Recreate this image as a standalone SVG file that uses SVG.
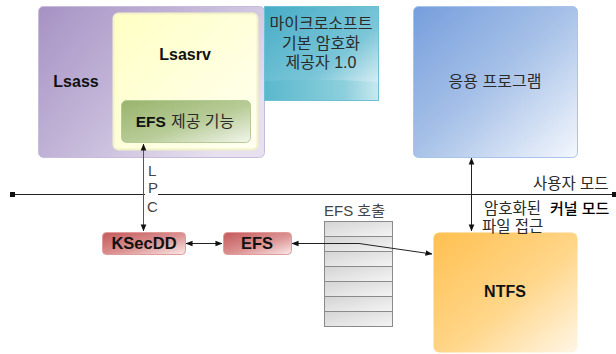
<svg xmlns="http://www.w3.org/2000/svg" width="616" height="354" viewBox="0 0 616 354">
<defs>
<linearGradient id="gPurple" x1="0" y1="0" x2="1" y2="0.6"><stop offset="0" stop-color="#a692c4"/><stop offset="0.5" stop-color="#c3b6d8"/><stop offset="1" stop-color="#e6e0ef"/></linearGradient>
<linearGradient id="gYellow" x1="0" y1="0" x2="1" y2="1"><stop offset="0" stop-color="#ffffc4"/><stop offset="1" stop-color="#fffff2"/></linearGradient>
<linearGradient id="gGreen" x1="0" y1="0" x2="1" y2="1"><stop offset="0" stop-color="#98b46c"/><stop offset="0.55" stop-color="#b8cc98"/><stop offset="1" stop-color="#f2f6ec"/></linearGradient>
<linearGradient id="gTeal" x1="0" y1="0" x2="1" y2="1"><stop offset="0" stop-color="#46acc6"/><stop offset="0.6" stop-color="#7cc6d8"/><stop offset="1" stop-color="#f4fafc"/></linearGradient>
<linearGradient id="gBand" x1="0" y1="0" x2="1" y2="0"><stop offset="0" stop-color="#5ab8cc"/><stop offset="0.7" stop-color="#8ccfdc"/><stop offset="1" stop-color="#c8e8ef"/></linearGradient>
<linearGradient id="gBlue" x1="0" y1="0" x2="1" y2="1"><stop offset="0" stop-color="#769edc"/><stop offset="0.5" stop-color="#a8c2e8"/><stop offset="1" stop-color="#f4f7fd"/></linearGradient>
<linearGradient id="gRed" x1="0" y1="0" x2="1" y2="1"><stop offset="0" stop-color="#c4585a"/><stop offset="0.55" stop-color="#dc9494"/><stop offset="1" stop-color="#fbeaea"/></linearGradient>
<linearGradient id="gOrange" x1="0" y1="0" x2="1" y2="1"><stop offset="0" stop-color="#ffc050"/><stop offset="0.55" stop-color="#ffd68a"/><stop offset="1" stop-color="#fff6e6"/></linearGradient>
<linearGradient id="gGray" x1="0" y1="0" x2="1" y2="1"><stop offset="0" stop-color="#d4d4d4"/><stop offset="1" stop-color="#f4f4f4"/></linearGradient>
<marker id="ah" viewBox="0 0 8 8" refX="7.5" refY="4" markerWidth="7" markerHeight="7" orient="auto-start-reverse" markerUnits="userSpaceOnUse"><path d="M0,0.8 L8,4 L0,7.2 Z" fill="#111"/></marker>
</defs>
<style>
.b{font-family:"Liberation Sans",Arial,sans-serif;font-weight:bold;font-size:16px;fill:#111;}
.k{font-family:"Liberation Sans","Noto Sans CJK KR",sans-serif;font-size:16px;fill:#2a2a2a;}
.g{font-family:"Liberation Sans",Arial,sans-serif;font-size:15px;fill:#444;}
.ln{stroke:#222;stroke-width:1;fill:none;}
.row{fill:url(#gGray);stroke:#8a8a8a;stroke-width:1;}
</style>
<g id="lsass">
<rect x="38.5" y="6.5" width="226" height="151" rx="5" fill="url(#gPurple)" stroke="#c8bcdc"/>
<text class="b" x="76" y="87" text-anchor="middle">Lsass</text>
</g>
<g id="lsasrv">
<rect x="113.5" y="13.5" width="144" height="136" rx="5" fill="url(#gYellow)" stroke="#f2f2c8" stroke-width="2"/>
<text class="b" x="185" y="60" text-anchor="middle">Lsasrv</text>
</g>
<g id="efs-provider">
<rect x="121.5" y="100.5" width="129" height="42" rx="5" fill="url(#gGreen)" stroke="#b4cc94"/>
<text x="185" y="127" text-anchor="middle"><tspan class="b" style="font-size:15.5px">EFS</tspan><tspan class="k" dx="5">제공 기능</tspan></text>
</g>
<g id="ms-provider">
<rect x="264.5" y="6.5" width="114" height="94" fill="url(#gTeal)" stroke="#6cc0d4"/>
<path d="M265,81 Q320,78 378,82 L378,100 L265,100 Z" fill="url(#gBand)"/>
<rect x="264.5" y="6.5" width="114" height="94" fill="none" stroke="#6cc0d4"/>
<text class="k" x="321" y="29" text-anchor="middle">마이크로소프트</text>
<text class="k" x="321" y="49" text-anchor="middle">기본 암호화</text>
<text class="k" x="321" y="68" text-anchor="middle">제공자 1.0</text>
</g>
<g id="app">
<rect x="413.5" y="6.5" width="164" height="151" rx="5" fill="url(#gBlue)" stroke="#a8c4ec"/>
<text class="k" x="495" y="87" text-anchor="middle">응용 프로그램</text>
</g>
<g id="ksecdd">
<rect x="102.5" y="232.5" width="83" height="22" rx="4" fill="url(#gRed)" stroke="#e29a9a"/>
<text class="b" x="144" y="249" text-anchor="middle" style="font-size:16.5px">KSecDD</text>
</g>
<g id="efs">
<rect x="223.5" y="232.5" width="68" height="22" rx="4" fill="url(#gRed)" stroke="#e29a9a"/>
<text class="b" x="257" y="249" text-anchor="middle" style="font-size:16.5px">EFS</text>
</g>
<g id="efs-calls">
<text class="g" x="324" y="216">EFS <tspan style="font-family:'Liberation Sans','Noto Sans CJK KR',sans-serif">호출</tspan></text>
<rect class="row" x="324.5" y="221.5" width="68" height="15"/>
<rect class="row" x="324.5" y="236.5" width="68" height="15"/>
<rect class="row" x="324.5" y="251.5" width="68" height="15"/>
<rect class="row" x="324.5" y="266.5" width="68" height="15"/>
<rect class="row" x="324.5" y="281.5" width="68" height="15"/>
<rect class="row" x="324.5" y="296.5" width="68" height="15"/>
<rect class="row" x="324.5" y="311.5" width="68" height="15"/>
</g>
<g id="ntfs">
<rect x="433.5" y="232.5" width="144" height="120" rx="6" fill="url(#gOrange)"/>
<text class="b" x="505" y="297" text-anchor="middle">NTFS</text>
</g>
<g id="connectors">
<path class="ln" d="M12,194.5 H145 M158,194.5 H614"/>
<rect x="10" y="192" width="5" height="5" fill="#111"/>
<rect x="612" y="192" width="5" height="5" fill="#111"/>
<path d="M143.5,144 V231" stroke="#555" stroke-width="1" fill="none" marker-start="url(#ah)" marker-end="url(#ah)"/>
<text class="g" x="148" y="176">L</text>
<text class="g" x="148" y="193">P</text>
<text class="g" x="147" y="212">C</text>
<path class="ln" d="M186,243.5 H222" marker-start="url(#ah)" marker-end="url(#ah)"/>
<path class="ln" d="M292,243.5 H359 L432,254" marker-start="url(#ah)" marker-end="url(#ah)"/>
<path class="ln" d="M471.5,158 V231" marker-start="url(#ah)" marker-end="url(#ah)"/>
<text class="k" x="533" y="189" style="font-size:15.5px">사용자 모드</text>
<text class="k" x="484" y="214" style="font-size:15.5px">암호화된</text>
<text class="k" x="550" y="214" style="fill:#000;font-weight:500;font-size:15px">커널 모드</text>
<text class="k" x="482" y="232" style="font-size:15.5px">파일 접근</text>
</g>
</svg>
